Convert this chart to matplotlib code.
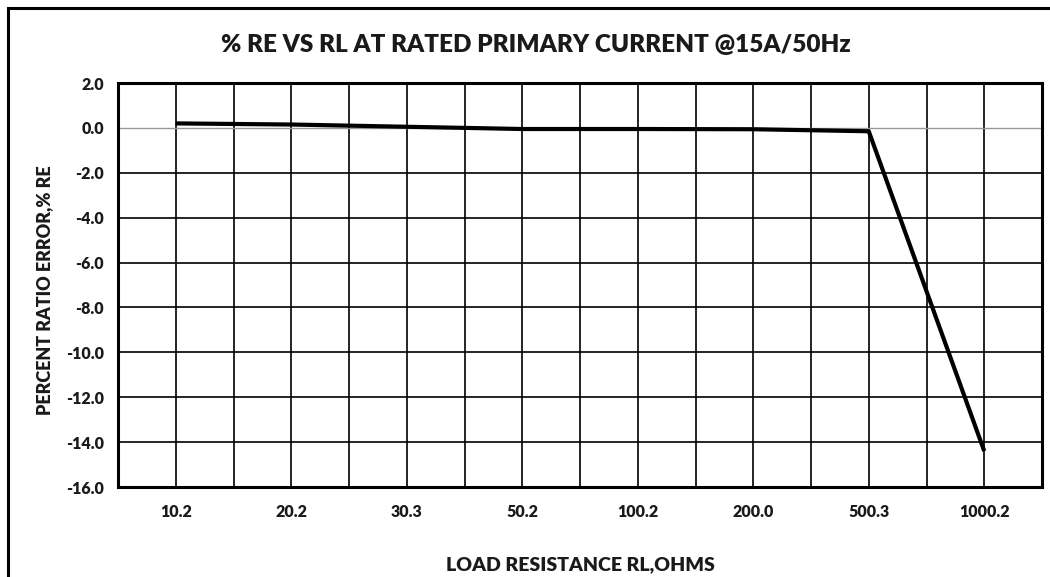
import matplotlib
matplotlib.use("Agg")
import matplotlib.pyplot as plt
from matplotlib.patches import Rectangle
from matplotlib.ticker import MultipleLocator, FormatStrFormatter, FixedLocator

categories = ["10.2", "20.2", "30.3", "50.2", "100.2", "200.0", "500.3", "1000.2"]
ratio_error = [0.2, 0.15, 0.05, -0.05, -0.05, -0.06, -0.15, -14.4]

title = "% RE VS RL AT RATED PRIMARY CURRENT @15A/50Hz"
xlabel = "LOAD RESISTANCE RL,OHMS"
ylabel = "PERCENT RATIO ERROR,% RE"

plt.rcParams['font.family'] = ['Lato', 'DejaVu Sans']
plt.rcParams['font.weight'] = 'bold'

fig = plt.figure(figsize=(10.5, 5.77), dpi=100)
W, H = 1050, 577
ax = fig.add_axes([118 / W, 1 - 487 / H, (1042 - 118) / W, (487 - 83) / H])

# outer frame
fig.patches.append(Rectangle((8 / W, -0.1), 1.2, 1 - 8 / H + 0.1, transform=fig.transFigure,
                             fill=False, edgecolor='black', linewidth=2.2))

x = list(range(len(categories)))
ax.plot(x, ratio_error, color='black', linewidth=3.0, zorder=3, solid_capstyle='butt')

ax.set_xlim(-0.5, len(categories) - 0.5)
ax.set_ylim(-16, 2)
ax.yaxis.set_major_locator(MultipleLocator(2))
ax.yaxis.set_major_formatter(FormatStrFormatter('%.1f'))
ax.set_xticks(x)
ax.set_xticklabels(categories)
ax.xaxis.set_minor_locator(FixedLocator([i + 0.5 for i in range(-1, len(categories))]))

ax.grid(True, which='major', axis='both', color='black', linewidth=1.2)
ax.grid(True, which='minor', axis='x', color='black', linewidth=1.2)
# zero line appears lighter
for gl, v in zip(ax.yaxis.get_gridlines(), ax.get_yticks()):
    if abs(v) < 1e-9:
        gl.set_color('#999999')
        gl.set_linewidth(1.0)

ax.tick_params(axis='both', which='both', length=0, labelsize=11.5, colors='#1a1a1a')
ax.tick_params(axis='x', pad=12)
ax.tick_params(axis='y', pad=10)
for lbl in ax.get_xticklabels() + ax.get_yticklabels():
    lbl.set_fontweight('heavy')
for s in ax.spines.values():
    s.set_linewidth(2.2)
    s.set_color('black')
ax.set_axisbelow(True)

fig.text(536 / W, 1 - 45 / H, title, ha='center', va='center', fontsize=17.5,
         fontweight='heavy', color='#1a1a1a')
fig.text(580 / W, 1 - 565 / H, xlabel, ha='center', va='center', fontsize=14,
         fontweight='heavy', color='#1a1a1a')
fig.text(45 / W, 1 - 290 / H, ylabel, ha='center', va='center', fontsize=13,
         fontweight='heavy', rotation=90, color='#1a1a1a')

fig.savefig('out.png', dpi=100)
